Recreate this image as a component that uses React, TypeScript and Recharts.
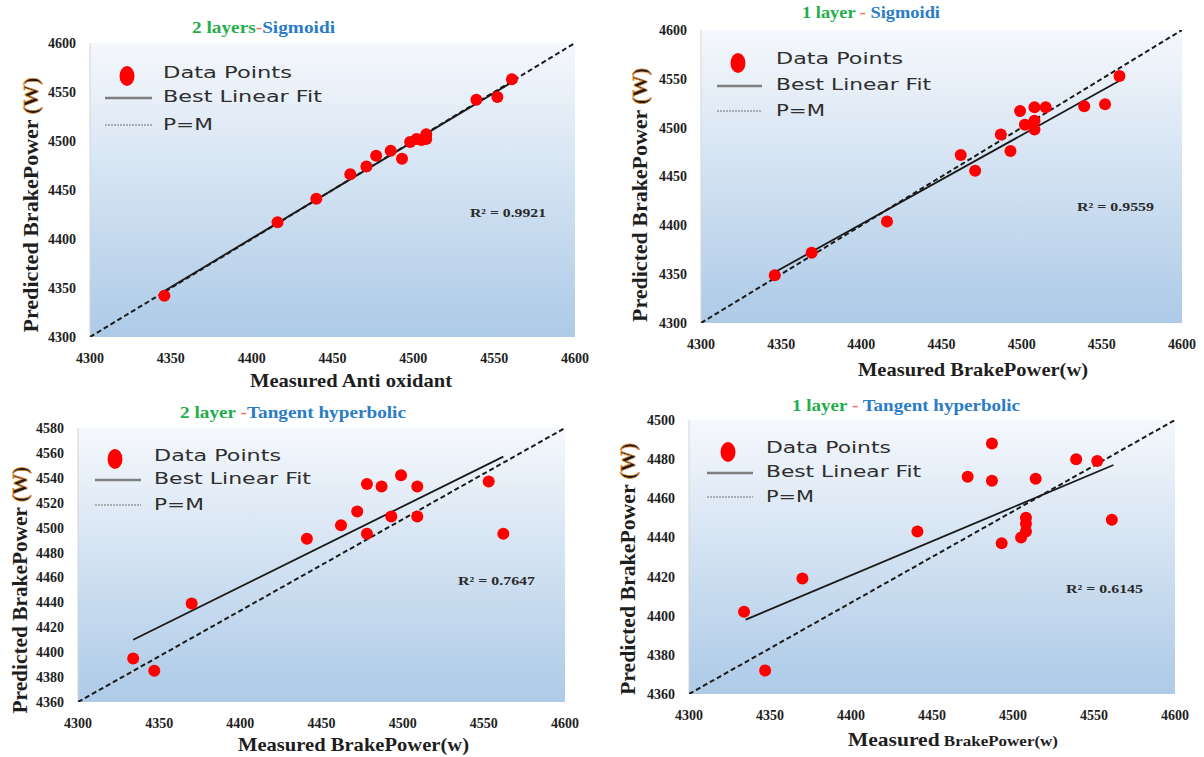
import React from 'react';
import { ScatterChart, Scatter, XAxis, YAxis, CartesianGrid } from 'recharts';

// shared axis ticks
const xTicks = [4300, 4350, 4400, 4450, 4500, 4550, 4600];
const yTicksSig = [4300, 4350, 4400, 4450, 4500, 4550, 4600];
const yTicks2Tanh = [4360, 4380, 4400, 4420, 4440, 4460, 4480, 4500, 4520, 4540, 4560, 4580];
const yTicks1Tanh = [4360, 4380, 4400, 4420, 4440, 4460, 4480, 4500];

// 2 layers - Sigmoidi
const sig2Measured = [4346, 4416, 4440, 4461, 4471, 4477, 4486, 4493, 4498, 4502, 4505, 4508, 4508, 4539, 4552, 4561];
const sig2Predicted = [4342, 4417, 4441, 4466, 4474, 4485, 4490, 4482, 4499, 4502, 4501, 4507, 4502, 4542, 4545, 4563];
const sig2FitX = [4346, 4561];
const sig2FitY = [4347, 4560];
const sig2PmX = [4300, 4600];
const sig2PmY = [4300, 4600];

// 1 layer - Sigmoidi
const sig1Measured = [4346, 4369, 4416, 4462, 4471, 4487, 4493, 4499, 4502, 4508, 4508, 4508, 4515, 4539, 4552, 4561];
const sig1Predicted = [4349, 4372, 4404, 4472, 4456, 4493, 4476, 4517, 4503, 4521, 4507, 4498, 4521, 4522, 4524, 4553];
const sig1FitX = [4346, 4561];
const sig1FitY = [4352, 4548];
const sig1PmX = [4300, 4600];
const sig1PmY = [4300, 4600];

// 2 layer - Tangent hyperbolic
const tanh2Measured = [4334, 4347, 4370, 4441, 4462, 4472, 4478, 4478, 4487, 4493, 4499, 4509, 4509, 4553, 4562];
const tanh2Predicted = [4395, 4385, 4439, 4491, 4502, 4513, 4535, 4495, 4533, 4509, 4542, 4533, 4509, 4537, 4495];
const tanh2FitX = [4334, 4562];
const tanh2FitY = [4410, 4557];
const tanh2PmX = [4300, 4600];
const tanh2PmY = [4360, 4580];

// 1 layer - Tangent hyperbolic
const tanh1Measured = [4334, 4347, 4370, 4441, 4472, 4487, 4487, 4493, 4505, 4508, 4508, 4508, 4514, 4539, 4552, 4561];
const tanh1Predicted = [4402, 4372, 4419, 4443, 4471, 4488, 4469, 4437, 4440, 4443, 4447, 4450, 4470, 4480, 4479, 4449];
const tanh1FitX = [4335, 4562];
const tanh1FitY = [4398, 4477];
const tanh1PmX = [4300, 4600];
const tanh1PmY = [4360, 4500];

const SERIF = '"Liberation Serif", "Times New Roman", serif';
const SANS = '"DejaVu Sans", Verdana, sans-serif';
const GREEN = '#1fae4b';
const RED = '#ef6b6b';
const BLUE = '#2a7cc7';

const toPoints = (xs: number[], ys: number[]) => xs.map((x, i) => ({ x, y: ys[i] }));

const noShape = () => <g />;
const redDot = (props: any) => <circle cx={props.cx} cy={props.cy} r={6} fill="#ff0000" />;

const tickStyle = { fontFamily: SERIF, fontWeight: 700, fontSize: 14, fill: '#1e1e1e' };

const panels = [
  {
    id: 'a',
    box: { x: 0, y: 0, w: 600, h: 395 },
    plot: { l: 90, t: 43, r: 575, b: 337 },
    measured: sig2Measured, predicted: sig2Predicted,
    fitX: sig2FitX, fitY: sig2FitY, pmX: sig2PmX, pmY: sig2PmY,
    yTicks: yTicksSig,
    title: { x1: 192, x2: 335, y: 27, parts: ['2 layers', '-', 'Sigmoidi'] },
    xLabel: { x1: 250, x2: 452, y: 380, text: 'Measured Anti oxidant' },
    yLabel: { cx: 31, cy: 205, len: 255 },
    legend: { dot: [127, 76], lx1: 105, lx2: 152, rows: [73, 97, 125], tx: 163, lens: [129, 159, 50] },
    r2: { x1: 470, x2: 546, y: 212, value: '0.9921' },
  },
  {
    id: 'b',
    box: { x: 600, y: 0, w: 604, h: 395 },
    plot: { l: 701, t: 30, r: 1182, b: 323 },
    measured: sig1Measured, predicted: sig1Predicted,
    fitX: sig1FitX, fitY: sig1FitY, pmX: sig1PmX, pmY: sig1PmY,
    yTicks: yTicksSig,
    title: { x1: 802, x2: 940, y: 12, parts: ['1 layer', ' - ', 'Sigmoidi'] },
    xLabel: { x1: 858, x2: 1088, y: 369, text: 'Measured BrakePower(w)' },
    yLabel: { cx: 640, cy: 195, len: 254 },
    legend: { dot: [738, 63], lx1: 717, lx2: 762, rows: [59, 85, 111], tx: 776, lens: [127, 155, 49] },
    r2: { x1: 1077, x2: 1154, y: 206, value: '0.9559' },
  },
  {
    id: 'c',
    box: { x: 0, y: 395, w: 600, h: 362 },
    plot: { l: 78, t: 428, r: 565, b: 702 },
    measured: tanh2Measured, predicted: tanh2Predicted,
    fitX: tanh2FitX, fitY: tanh2FitY, pmX: tanh2PmX, pmY: tanh2PmY,
    yTicks: yTicks2Tanh,
    title: { x1: 180, x2: 406, y: 412, parts: ['2 layer ', '-', 'Tangent hyperbolic'] },
    xLabel: { x1: 238, x2: 469, y: 744, text: 'Measured BrakePower(w)' },
    yLabel: { cx: 20, cy: 590, len: 247 },
    legend: { dot: [115, 459], lx1: 95, lx2: 141, rows: [456, 479, 505], tx: 154, lens: [127, 157, 50] },
    r2: { x1: 458, x2: 535, y: 580, value: '0.7647' },
  },
  {
    id: 'd',
    box: { x: 600, y: 395, w: 604, h: 362 },
    plot: { l: 689, t: 420, r: 1175, b: 694 },
    measured: tanh1Measured, predicted: tanh1Predicted,
    fitX: tanh1FitX, fitY: tanh1FitY, pmX: tanh1PmX, pmY: tanh1PmY,
    yTicks: yTicks1Tanh,
    title: { x1: 792, x2: 1020, y: 405, parts: ['1 layer', ' - ', 'Tangent hyperbolic'] },
    xLabel: { x1: 848, x2: 1058, y: 739, text: 'Measured', small: ' BrakePower(w)' },
    yLabel: { cx: 628, cy: 569, len: 252 },
    legend: { dot: [728, 452], lx1: 707, lx2: 753, rows: [448, 472, 497], tx: 766, lens: [125, 155, 48] },
    r2: { x1: 1066, x2: 1143, y: 588, value: '0.6145' },
  },
];

const Panel = ({ cfg }: any) => {
  const { id, box, plot, yTicks } = cfg;
  const pts = toPoints(cfg.measured, cfg.predicted);
  const fit = toPoints(cfg.fitX, cfg.fitY);
  const pm = toPoints(cfg.pmX, cfg.pmY);
  const yAxisW = 60;
  const xAxisH = 30;
  const margin = {
    top: plot.t - box.y,
    right: box.x + box.w - plot.r,
    left: plot.l - box.x - yAxisW,
    bottom: box.y + box.h - plot.b - xAxisH,
  };
  return (
    <div style={{ position: 'absolute', left: box.x, top: box.y }}>
      <ScatterChart width={box.w} height={box.h} margin={margin}>
        <defs>
          <linearGradient id={`bg-${id}`} x1="0" y1="0" x2="0" y2="1">
            <stop offset="0%" stopColor="#f5f8fc" />
            <stop offset="100%" stopColor="#adcae7" />
          </linearGradient>
        </defs>
        <CartesianGrid horizontal={false} vertical={false} fill={`url(#bg-${id})`} />
        <XAxis
          type="number"
          dataKey="x"
          domain={[4300, 4600]}
          ticks={xTicks}
          height={xAxisH}
          tickSize={0}
          tickMargin={16}
          axisLine={false}
          tick={tickStyle}
          allowDataOverflow
        />
        <YAxis
          type="number"
          dataKey="y"
          domain={[yTicks[0], yTicks[yTicks.length - 1]]}
          ticks={yTicks}
          width={yAxisW}
          tickSize={0}
          tickMargin={14}
          axisLine={{ stroke: '#d4d4d4' }}
          tick={tickStyle}
          allowDataOverflow
        />
        <Scatter
          data={pm}
          line={{ stroke: '#1a1a1a', strokeWidth: 2, strokeDasharray: '5 3' }}
          shape={noShape}
          isAnimationActive={false}
        />
        <Scatter
          data={fit}
          line={{ stroke: '#1a1a1a', strokeWidth: 1.8 }}
          shape={noShape}
          isAnimationActive={false}
        />
        <Scatter data={pts} fill="#ff0000" shape={redDot} isAnimationActive={false} />
      </ScatterChart>
    </div>
  );
};

const Annotations = ({ cfg }: any) => {
  const { title, xLabel, yLabel, legend, r2 } = cfg;
  const [dx, dy] = legend.dot;
  return (
    <g>
      <text
        x={title.x1}
        y={title.y}
        dy="0.35em"
        textLength={title.x2 - title.x1}
        lengthAdjust="spacingAndGlyphs"
        style={{ fontFamily: SERIF, fontWeight: 700, fontSize: 17 }}
      >
        <tspan fill={GREEN}>{title.parts[0]}</tspan>
        <tspan fill={RED}>{title.parts[1]}</tspan>
        <tspan fill={BLUE}>{title.parts[2]}</tspan>
      </text>
      <text
        x={xLabel.x1}
        y={xLabel.y}
        dy="0.35em"
        textLength={xLabel.x2 - xLabel.x1}
        lengthAdjust="spacingAndGlyphs"
        fill="#1e1e1e"
        style={{ fontFamily: SERIF, fontWeight: 700, fontSize: 19 }}
      >
        {xLabel.text}
        {xLabel.small && <tspan style={{ fontSize: 15 }}>{xLabel.small}</tspan>}
      </text>
      <text
        x={yLabel.cx}
        y={yLabel.cy}
        dy="0.35em"
        textAnchor="middle"
        transform={`rotate(-90 ${yLabel.cx} ${yLabel.cy})`}
        textLength={yLabel.len}
        lengthAdjust="spacingAndGlyphs"
        fill="#1e1e1e"
        style={{ fontFamily: SERIF, fontWeight: 700, fontSize: 20 }}
      >
        Predicted  BrakePower{' '}
        <tspan fill="#1a1a1a" stroke="#e38b2c" strokeWidth={0.7}>(W)</tspan>
      </text>
      <ellipse cx={dx} cy={dy} rx={7.5} ry={10} fill="#ff0000" />
      <line x1={legend.lx1} x2={legend.lx2} y1={legend.rows[1] + 1} y2={legend.rows[1] + 1} stroke="#808080" strokeWidth={2.5} />
      <line x1={legend.lx1} x2={legend.lx2} y1={legend.rows[2]} y2={legend.rows[2]} stroke="#707070" strokeWidth={1.2} strokeDasharray="2 1" />
      {['Data Points', 'Best Linear Fit', 'P=M'].map((t, i) => (
        <text
          key={t}
          x={legend.tx}
          y={legend.rows[i]}
          dy="0.35em"
          textLength={legend.lens[i]}
          lengthAdjust="spacingAndGlyphs"
          fill="#2e2e2e"
          style={{ fontFamily: SANS, fontSize: 15 }}
        >
          {t}
        </text>
      ))}
      <text
        x={r2.x1}
        y={r2.y}
        dy="0.35em"
        textLength={r2.x2 - r2.x1}
        lengthAdjust="spacingAndGlyphs"
        fill="#2a2a2a"
        style={{ fontFamily: SERIF, fontWeight: 700, fontSize: 13 }}
      >
        R² = {r2.value}
      </text>
    </g>
  );
};

export default function App() {
  return (
    <div style={{ position: 'absolute', left: 0, top: 0, width: 1204, height: 757, background: '#fff' }}>
      {panels.map((p) => (
        <Panel key={p.id} cfg={p} />
      ))}
      <svg
        width={1204}
        height={757}
        style={{ position: 'absolute', left: 0, top: 0, pointerEvents: 'none' }}
      >
        {panels.map((p) => (
          <Annotations key={p.id} cfg={p} />
        ))}
      </svg>
    </div>
  );
}
